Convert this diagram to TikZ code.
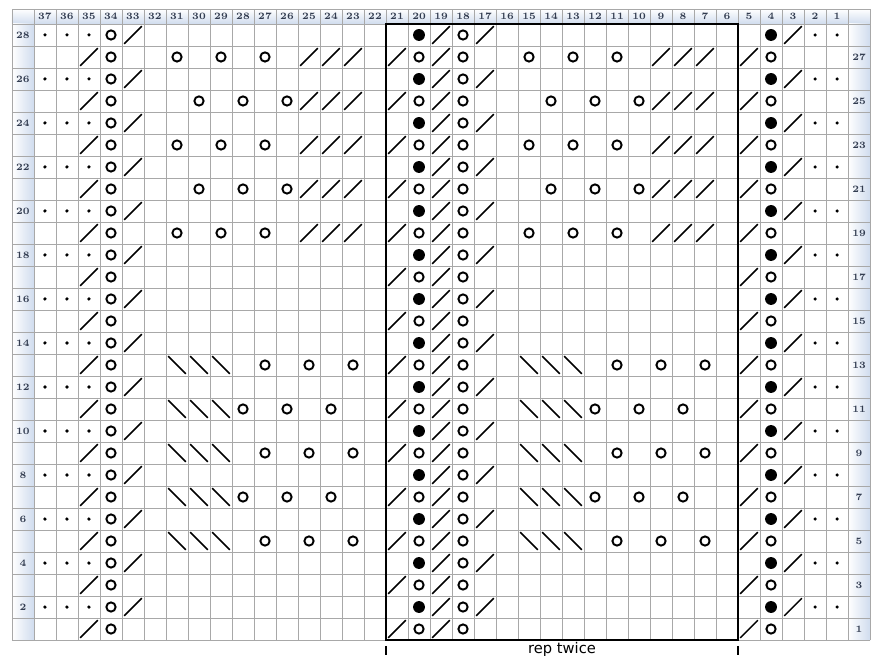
\documentclass[tikz,border=0pt]{standalone}
\usepackage{fontspec}
\usepackage{xcolor}
\usepackage{tikz}
\usetikzlibrary{positioning}
\newfontfamily\repfont{DejaVu Sans}
\definecolor{chartgrid}{RGB}{168,168,168}
\definecolor{charthead}{RGB}{208,220,238}
\definecolor{chartlabel}{RGB}{50,60,80}

\begin{document}
\begin{tikzpicture}[scale=0.5,
    gridline/.style={draw=chartgrid, line width=0.45pt},
    yarnover/.style={draw=black, line width=1.25pt},
    slant/.style={draw=black, line width=0.95pt},
    numlabel/.style={text=chartlabel, font=\fontsize{6.3}{7}\selectfont\bfseries, inner sep=0pt}]
  \useasboundingbox (-1.545,-0.682) rectangle (38.59,29.09);

  % label bars
  \shade[top color=white, bottom color=charthead] (-1,28) rectangle (38,28.68);
  \shade[left color=white, right color=charthead] (-1,0) rectangle (0,28);
  \shade[left color=white, right color=charthead] (37,0) rectangle (38,28);

  % grid
  \draw[gridline] (-1,0) grid (38,28);
  \foreach \x in {-1,...,38}
    \draw[gridline] (\x,28) -- (\x,28.68);
  \draw[gridline] (-1,28.68) -- (38,28.68);

  % numbers
  \foreach \c in {1,...,37}
    \node[numlabel] (c\c) at (37.5-\c,28.34) {\c};
  \foreach \r in {2,4,...,28}
    \node[numlabel] (r\r) at (-0.5,\r-0.5) {\r};
  \foreach \r in {1,3,...,27}
    \node[numlabel] (r\r) at (37.5,\r-0.5) {\r};

  % even rows
  \foreach \r in {2,4,...,28} {
    \foreach \c in {37,36,35,2,1}
      \fill (37.5-\c,\r-0.5) circle (0.08);
    \foreach \c in {34,18}
      \draw[yarnover] (37.5-\c,\r-0.5) circle (0.21);
    \foreach \c in {20,4}
      \fill (37.5-\c,\r-0.5) circle (0.27);
    \foreach \c in {33,19,17,3}
      \draw[slant] (37.1-\c,\r-0.9) -- (37.9-\c,\r-0.1);
  }

  % odd rows
  \foreach \r in {1,3,...,27} {
    \foreach \c in {34,20,18,4}
      \draw[yarnover] (37.5-\c,\r-0.5) circle (0.21);
    \foreach \c in {35,21,19,5}
      \draw[slant] (37.1-\c,\r-0.9) -- (37.9-\c,\r-0.1);
  }

  % lace panels
  \foreach \r in {27,23,19} {
    \foreach \c in {31,29,27,15,13,11}
      \draw[yarnover] (37.5-\c,\r-0.5) circle (0.21);
  }
  \foreach \r in {25,21} {
    \foreach \c in {30,28,26,14,12,10}
      \draw[yarnover] (37.5-\c,\r-0.5) circle (0.21);
  }
  \foreach \r in {27,25,23,21,19} {
    \foreach \c in {25,24,23,9,8,7}
      \draw[slant] (37.1-\c,\r-0.9) -- (37.9-\c,\r-0.1);
  }
  \foreach \r in {13,9,5} {
    \foreach \c in {27,25,23,11,9,7}
      \draw[yarnover] (37.5-\c,\r-0.5) circle (0.21);
  }
  \foreach \r in {11,7} {
    \foreach \c in {28,26,24,12,10,8}
      \draw[yarnover] (37.5-\c,\r-0.5) circle (0.21);
  }
  \foreach \r in {13,11,9,7,5} {
    \foreach \c in {31,30,29,15,14,13}
      \draw[slant] (37.1-\c,\r-0.1) -- (37.9-\c,\r-0.9);
  }

  % repeat
  \draw[line width=1.4pt] (16,0) rectangle (32,28);
  \coordinate (repl) at (16,-0.27);
  \coordinate (repr) at (32,-0.27);
  \draw[line width=1.1pt] (repl) -- ++(0,-0.42);
  \draw[line width=1.1pt] (repr) -- ++(0,-0.42);
  \node[font=\repfont\fontsize{9.5}{10}\selectfont, inner sep=0pt, anchor=north] (rep) at (24,-0.1) {rep twice};
\end{tikzpicture}
\end{document}
